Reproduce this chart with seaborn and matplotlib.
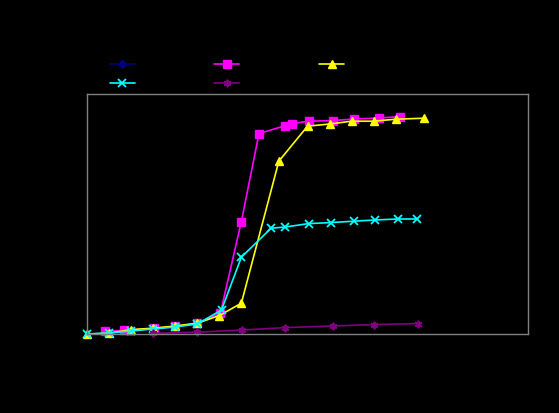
import matplotlib
matplotlib.use("Agg")
import matplotlib.pyplot as plt
import seaborn as sns
import pandas as pd

sns.set_theme(style="white")
plt.rcParams['font.family'] = ['DejaVu Sans']

# Series data
s1_x = [0, 1, 2, 3, 4, 5]
s1_y = [0, 0.5, 1.5, 2.5, 3.5, 5.0]

s2_x = [0.8, 1.7, 3.05, 4, 5, 6.05, 7, 7.8, 9, 9.3, 10.05, 11.15, 12.1, 13.25, 14.2]
s2_y = [1.4, 1.8, 2.8, 3.8, 5.3, 10.5, 56.2, 100.2, 104.2, 105.2, 106.4, 106.7, 107.5, 108.0, 108.7]

s3_x = [0, 1, 2, 3, 4, 5, 6, 7, 8.7, 10, 11, 12, 13, 14, 15.3]
s3_y = [0, 0.4, 2.2, 2.9, 4.0, 5.4, 9.2, 15.4, 86.4, 103.9, 105.0, 106.4, 106.4, 107.4, 107.9]

s4_x = [0, 1, 2, 3, 4, 5, 6.1, 7, 8.35, 9, 10.05, 11.05, 12.1, 13.05, 14.1, 14.95]
s4_y = [0, 0.5, 1.5, 2.5, 3.5, 5.0, 12.0, 38.4, 52.9, 53.5, 55.2, 55.7, 56.4, 57.0, 57.5, 57.5]

s5_x = [3, 5, 7.05, 9, 11.15, 13, 15]
s5_y = [0.4, 0.9, 2.0, 3.2, 4.0, 4.7, 5.2]

labels = ["Series1", "Series2", "Series3", "Series4", "Series5"]

fig = plt.figure(figsize=(5.59, 4.14), dpi=100, facecolor="black")
ax = fig.add_axes([87/559, 1-335/414, (528-87)/559, (335-95)/414])
ax.set_facecolor("black")

styles = [
    (s1_x, s1_y, "#000080", "D", 4.5, 1.0),
    (s2_x, s2_y, "#FF00FF", "s", 5.5, 1.0),
    (s3_x, s3_y, "#FFFF00", "^", 6, 1.0),
    (s4_x, s4_y, "#00FFFF", "x", 5.5, 1.3),
    (s5_x, s5_y, "#800080", (6, 2, 0), 5.5, 1.3),
]

handles = []
for (xs, ys, col, mk, ms, mew), lab in zip(styles, labels):
    df = pd.DataFrame({"x": xs, "y": ys})
    sns.lineplot(data=df, x="x", y="y", ax=ax, color=col, marker=mk,
                 markersize=ms, markeredgecolor=col, markerfacecolor=col,
                 markeredgewidth=mew, linewidth=1.2, sort=False,
                 estimator=None, label=lab, legend=False, clip_on=False)
    handles.append(ax.lines[-1])

ax.set_xlim(0, 20)
ax.set_ylim(0, 120)
ax.set_xlabel("")
ax.set_ylabel("")
ax.set_xticks([])
ax.set_yticks([])
for sp in ax.spines.values():
    sp.set_color("#808080")
    sp.set_linewidth(1.0)

order = [0, 3, 1, 4, 2]
leg = fig.legend([handles[i] for i in order], [labels[i] for i in order],
                 ncol=3, loc="upper left", bbox_to_anchor=(97/559, 1-46/414),
                 frameon=False, handlelength=1.8, columnspacing=1.45,
                 handletextpad=0.6, labelspacing=0.35, fontsize=10)
for t in leg.get_texts():
    t.set_color("black")

fig.savefig("out.png", dpi=100, facecolor="black")
